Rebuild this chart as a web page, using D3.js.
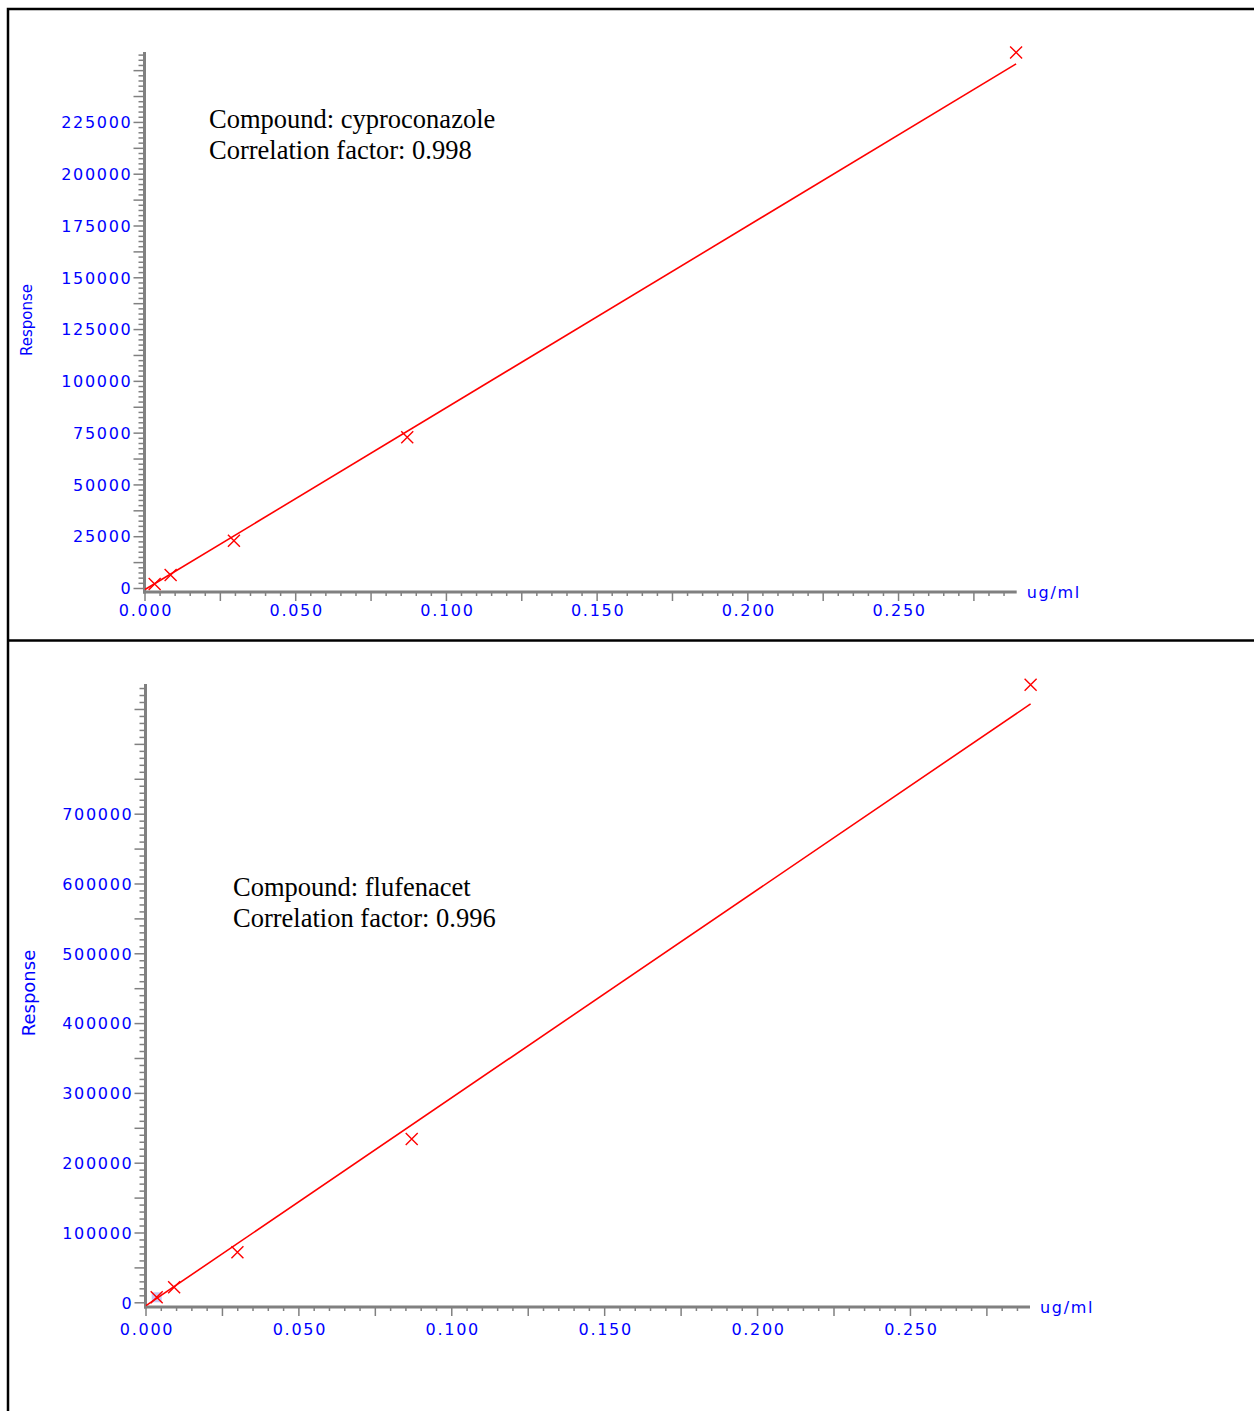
<!DOCTYPE html>
<html>
<head>
<meta charset="utf-8">
<script src="https://cdn.jsdelivr.net/npm/d3@7"></script>
<style>
  body { margin: 0; background: #fff; }
  svg { display: block; }
  .tick-label { font-family: "DejaVu Sans", sans-serif; font-size: 16px; letter-spacing: 1.7px; fill: #0000ff; }
  .note { font-family: "Liberation Serif", "Times New Roman", serif; font-size: 26.5px; fill: #000; }
</style>
</head>
<body>
<svg id="chart" width="1254" height="1411"></svg>
<script>
// 标定曲线数据
const xLabelTicks = [0, 0.05, 0.10, 0.15, 0.20, 0.25];

// cyproconazole
const conc1 = [0.0032, 0.0085, 0.0295, 0.087, 0.289];
const resp1 = [2200, 6500, 23100, 73000, 258800];
const fit1 = { slope: 878000, intercept: -500 };
const yLabels1 = [0, 25000, 50000, 75000, 100000, 125000, 150000, 175000, 200000, 225000];

// flufenacet
const conc2 = [0.0035, 0.0092, 0.0299, 0.0869, 0.2893];
const resp2 = [7900, 22200, 72400, 234700, 885500];
const fit2 = { slope: 2980000, intercept: -4150 };
const yLabels2 = [0, 100000, 200000, 300000, 400000, 500000, 600000, 700000];

const svg = d3.select('#chart');

// 外框
svg.append('path')
    .attr('d', 'M8,1411 L8,9 L1254,9 M8,640.5 L1254,640.5')
    .attr('fill', 'none')
    .attr('stroke', '#000')
    .attr('stroke-width', 2.5);

const panels = [
    {
        conc: conc1, resp: resp1, fit: fit1, yLabels: yLabels1,
        xDomain: [0, 0.2892], xRange: [145, 1016.7],
        yDomain: [0, 259000], yRange: [588.5, 52],
        yMinor: 2500, yMajor: 12500,
        xAxisY: 592, xLabelDy: 24,
        compound: 'cyproconazole', corr: '0.998',
        noteX: 209, noteY: 128,
        respSize: 15, respX: 27, respY: 320,
        highlight: false
    },
    {
        conc: conc2, resp: resp2, fit: fit2, yLabels: yLabels2,
        xDomain: [0, 0.2891], xRange: [146, 1030],
        yDomain: [0, 886500], yRange: [1302.8, 684],
        yMinor: 10000, yMajor: 50000,
        xAxisY: 1307, xLabelDy: 28,
        compound: 'flufenacet', corr: '0.996',
        noteX: 233, noteY: 896,
        respSize: 18, respX: 29, respY: 993,
        highlight: true
    }
];

panels.forEach(p => drawPanel(p));

function drawPanel(p) {
    const x = d3.scaleLinear().domain(p.xDomain).range(p.xRange);
    const y = d3.scaleLinear().domain(p.yDomain).range(p.yRange);
    const g = svg.append('g');
    const axisColor = '#808080';
    const axisX = x(0) - 0.5;

    // y 轴刻度
    const yTicks = d3.range(0, p.yDomain[1] + 1, p.yMinor);
    g.selectAll('line.ytick')
        .data(yTicks)
        .join('line')
        .attr('x1', axisX)
        .attr('x2', v => axisX - (Math.round(v / p.yMinor) % Math.round(p.yMajor / p.yMinor) === 0 ? 11 : 6))
        .attr('y1', v => y(v))
        .attr('y2', v => y(v))
        .attr('stroke', axisColor)
        .attr('stroke-width', 1.5);

    g.selectAll('text.ylab')
        .data(p.yLabels)
        .join('text')
        .attr('class', 'tick-label')
        .attr('x', axisX - 12)
        .attr('y', v => y(v))
        .attr('dy', '0.36em')
        .attr('text-anchor', 'end')
        .text(v => v);

    // x 轴刻度
    const xTicks = d3.range(0, 58).map(i => i * 0.005).filter(v => v <= p.xDomain[1]);
    g.selectAll('line.xtick')
        .data(xTicks)
        .join('line')
        .attr('x1', v => x(v))
        .attr('x2', v => x(v))
        .attr('y1', p.xAxisY)
        .attr('y2', (v, i) => p.xAxisY + (i % 5 === 0 ? 9 : 4))
        .attr('stroke', axisColor)
        .attr('stroke-width', 1.5);

    g.selectAll('text.xlab')
        .data(xLabelTicks)
        .join('text')
        .attr('class', 'tick-label')
        .attr('x', v => x(v) + 1)
        .attr('y', p.xAxisY + p.xLabelDy)
        .attr('text-anchor', 'middle')
        .text(d3.format('.3f'));

    // 轴线
    g.append('line')
        .attr('x1', axisX).attr('x2', axisX)
        .attr('y1', y(p.yDomain[1])).attr('y2', p.xAxisY + 1.5)
        .attr('stroke', axisColor).attr('stroke-width', 3);
    g.append('line')
        .attr('x1', axisX - 1.5).attr('x2', x(p.xDomain[1]))
        .attr('y1', p.xAxisY).attr('y2', p.xAxisY)
        .attr('stroke', axisColor).attr('stroke-width', 3);

    // 单位与轴标题
    g.append('text')
        .attr('class', 'tick-label')
        .attr('x', x(p.xDomain[1]) + 10)
        .attr('y', p.xAxisY + 6)
        .text('ug/ml');

    g.append('text')
        .attr('transform', `translate(${p.respX},${p.respY}) rotate(-90)`)
        .attr('text-anchor', 'middle')
        .attr('dy', '0.35em')
        .style('font-family', '"DejaVu Sans", sans-serif')
        .style('font-size', p.respSize + 'px')
        .style('fill', '#0000ff')
        .text('Response');

    // 选中点高亮
    if (p.highlight) {
        g.append('rect')
            .attr('x', x(p.conc[0]) - 5)
            .attr('y', y(p.resp[0]) - 5)
            .attr('width', 10)
            .attr('height', 10)
            .attr('fill', '#c8c8f4');
    }

    // 回归线
    const xEnd = d3.max(p.conc);
    g.append('line')
        .attr('x1', x(0)).attr('y1', y(p.fit.intercept))
        .attr('x2', x(xEnd)).attr('y2', y(p.fit.slope * xEnd + p.fit.intercept))
        .attr('stroke', '#ff0000')
        .attr('stroke-width', 1.6);

    // 数据点 (×)
    const pts = p.conc.map((c, i) => ({ c: c, r: p.resp[i] }));
    g.selectAll('path.pt')
        .data(pts)
        .join('path')
        .attr('d', d => {
            const cx = x(d.c), cy = y(d.r), s = 6;
            return `M${cx - s},${cy - s}L${cx + s},${cy + s}M${cx - s},${cy + s}L${cx + s},${cy - s}`;
        })
        .attr('stroke', '#ff0000')
        .attr('stroke-width', 1.4)
        .attr('fill', 'none');

    // 注释
    g.append('text')
        .attr('class', 'note')
        .attr('x', p.noteX)
        .attr('y', p.noteY)
        .text('Compound: ' + p.compound);
    g.append('text')
        .attr('class', 'note')
        .attr('x', p.noteX)
        .attr('y', p.noteY + 31)
        .text('Correlation factor: ' + p.corr);
}
</script>
</body>
</html>
